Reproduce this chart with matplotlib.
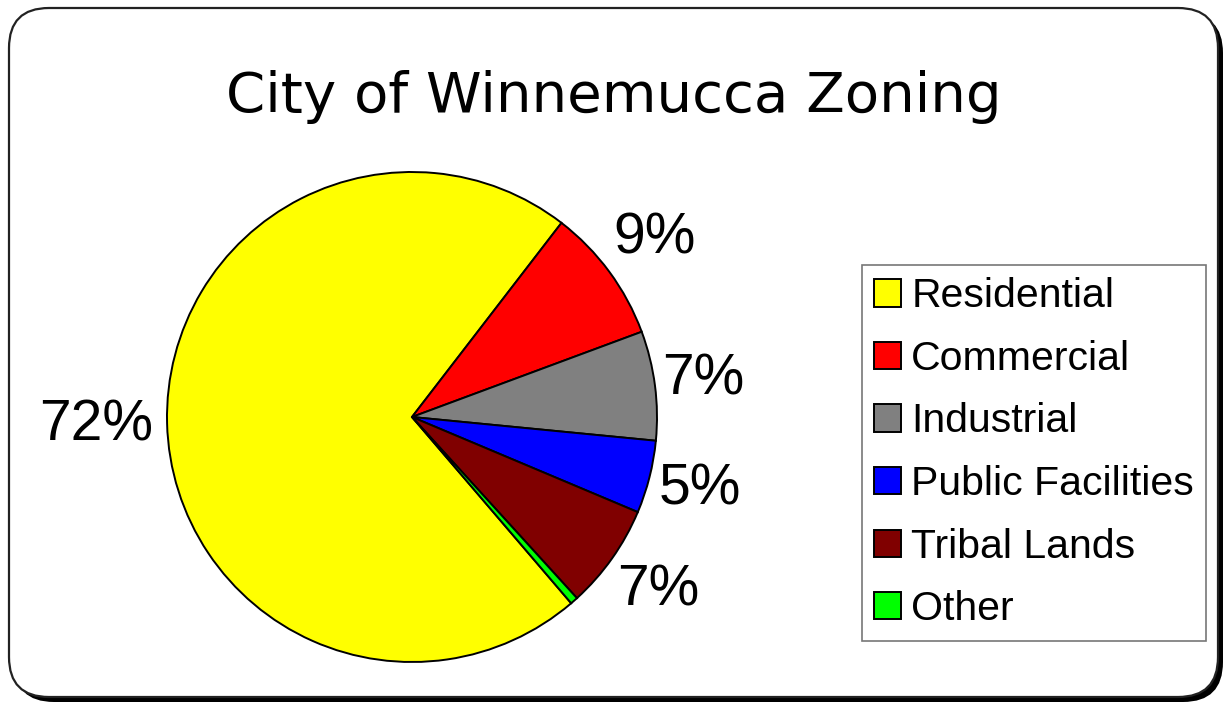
import matplotlib
matplotlib.use("Agg")
import numpy as np
import matplotlib.pyplot as plt
from matplotlib.patches import FancyBboxPatch

title = "City of Winnemucca Zoning"
categories = ["Residential", "Commercial", "Industrial", "Public Facilities", "Tribal Lands", "Other"]
values = [71.7, 8.9, 7.2, 4.8, 6.9, 0.5]
colors = ["#FFFF00", "#FF0000", "#808080", "#0000FF", "#800000", "#00FF00"]
label_dist = [1.29, 1.23, 1.2, 1.21, 1.23, 1.2]

W, H = 1225, 705
fig = plt.figure(figsize=(W / 100, H / 100), dpi=100)
fig.patch.set_facecolor("white")

# frame with rounded corners and a drop shadow
bg = fig.add_axes([0, 0, 1, 1])
bg.set_xlim(0, W)
bg.set_ylim(H, 0)
bg.axis("off")
shadow = FancyBboxPatch((14, 13), 1209, 689, boxstyle="round,pad=0,rounding_size=40",
                        facecolor="black", edgecolor="black", lw=0)
frame = FancyBboxPatch((9, 8), 1209, 689, boxstyle="round,pad=0,rounding_size=40",
                       facecolor="white", edgecolor="#222222", lw=1.6)
bg.add_patch(shadow)
bg.add_patch(frame)

fig.text(614 / W, 1 - 97 / H, title, ha="center", va="center",
         fontsize=40.5, family="DejaVu Sans", color="black")

# pie
cx, cy, r = 412, 417, 245
ax = fig.add_axes([(cx - r) / W, (H - cy - r) / H, 2 * r / W, 2 * r / H])
total = sum(values)
start = 52.4 + 360 * values[0] / total

def fmt(p):
    return "" if p < 1 else f"{p:.0f}%"

wedges, _, autotexts = ax.pie(values, colors=colors, startangle=start, counterclock=False,
                              autopct=fmt, pctdistance=1.24,
                              wedgeprops=dict(edgecolor="black", linewidth=1.4),
                              textprops=dict(fontsize=41, family="Liberation Sans", color="black"))
for w, t, d in zip(wedges, autotexts, label_dist):
    ang = np.deg2rad((w.theta1 + w.theta2) / 2)
    t.set_position((d * np.cos(ang), d * np.sin(ang)))
ax.set_xlim(-1, 1)
ax.set_ylim(-1, 1)
ax.set_aspect("equal")
ax.axis("off")

leg = fig.legend(wedges, categories, loc="upper left",
                 bbox_to_anchor=(862 / W, 1 - 265 / H),
                 prop=dict(family="Liberation Sans", size=29.5),
                 frameon=True, fancybox=False, edgecolor="#555555",
                 handlelength=0.65, handleheight=0.65, handletextpad=0.25,
                 labelspacing=0.6, borderpad=0.3, borderaxespad=0)
leg.get_frame().set_linewidth(1.2)

fig.savefig("out.png", dpi=100, facecolor="white")
